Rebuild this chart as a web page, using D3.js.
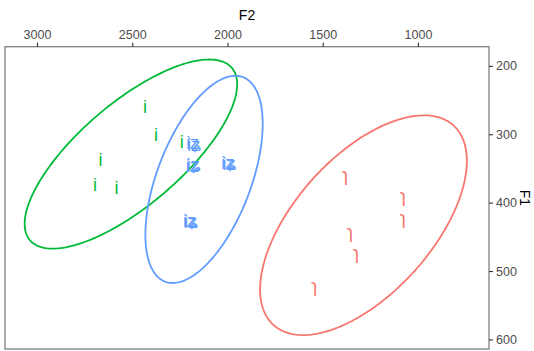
<!DOCTYPE html>
<html>
<head>
<meta charset="utf-8">
<script src="https://cdn.jsdelivr.net/npm/d3@7"></script>
<style>
  body { margin: 0; background: #fff; }
  svg { display: block; font-family: "Liberation Sans", Arial, "DejaVu Sans", sans-serif; }
</style>
</head>
<body>
<svg id="chart"></svg>
<script>
// vowel categories
const vowels = ["i", "iʑ", "ɿ"];

// measured formants per vowel (Hz)
const f2_i = [2433, 2375, 2240, 2666, 2696, 2582];
const f1_i = [260, 301, 311, 338, 374, 379];
const f2_iz = [2181, 2175, 2183, 2178, 1996, 1990, 2197, 2191];
const f1_iz = [313, 315, 347, 345, 342, 344, 427, 429];
const f2_syl = [1383, 1080, 1080, 1357, 1325, 1544];
const f1_syl = [360, 390, 423, 443, 473, 522];

// ellipse per vowel: centre [F2, F1] and two semi-axis vectors [dF2, dF1]
const ellipseCenter = [[2507, 329], [2123, 366], [1286, 433]];
const ellipseAxisA = [[-530, -126], [-308, -81], [-472, -146]];
const ellipseAxisB = [[-174, 57], [0, 128], [-268, 67]];

const f2Ticks = [3000, 2500, 2000, 1500, 1000];
const f1Ticks = [200, 300, 400, 500, 600];

const width = 534, height = 351;
const panel = { left: 5, right: 489, top: 46.7, bottom: 349 };

const points = [
  ...f2_i.map((d, i) => ({ vowel: vowels[0], f2: d, f1: f1_i[i] })),
  ...f2_iz.map((d, i) => ({ vowel: vowels[1], f2: d, f1: f1_iz[i] })),
  ...f2_syl.map((d, i) => ({ vowel: vowels[2], f2: d, f1: f1_syl[i] }))
];

// both axes reversed, as in a vowel chart
const x = d3.scaleLinear().domain([3168, 627]).range([panel.left, panel.right]);
const y = d3.scaleLinear().domain([172, 614]).range([panel.top, panel.bottom]);

const color = d3.scaleOrdinal()
  .domain(vowels)
  .range(["#00BA38", "#619CFF", "#F8766D"]);

const svg = d3.select("#chart").attr("width", width).attr("height", height);

// ellipses
const steps = d3.range(0, 2 * Math.PI, Math.PI / 90);
const ellipseLine = d3.line().curve(d3.curveLinearClosed);

svg.append("g")
  .selectAll("path")
  .data(vowels)
  .join("path")
  .attr("fill", "none")
  .attr("stroke", d => color(d))
  .attr("stroke-width", 1.8)
  .attr("d", (d, k) => {
    const c = ellipseCenter[k], a = ellipseAxisA[k], b = ellipseAxisB[k];
    return ellipseLine(steps.map(t => [
      x(c[0] + Math.cos(t) * a[0] + Math.sin(t) * b[0]),
      y(c[1] + Math.cos(t) * a[1] + Math.sin(t) * b[1])
    ]));
  });

// vowel labels
svg.append("g")
  .selectAll("text")
  .data(points)
  .join("text")
  .attr("x", d => x(d.f2))
  .attr("y", d => y(d.f1))
  .attr("text-anchor", "middle")
  .attr("dominant-baseline", "central")
  .attr("font-size", 18)
  .attr("fill", d => color(d.vowel))
  .text(d => d.vowel);

// panel border
svg.append("rect")
  .attr("x", panel.left)
  .attr("y", panel.top)
  .attr("width", panel.right - panel.left)
  .attr("height", panel.bottom - panel.top)
  .attr("fill", "none")
  .attr("stroke", "#7f7f7f")
  .attr("stroke-width", 1.3);

// top axis (F2)
const xAxis = svg.append("g")
  .attr("transform", `translate(0,${panel.top})`)
  .call(d3.axisTop(x).tickValues(f2Ticks).tickSize(4).tickPadding(4).tickFormat(d3.format("d")));
xAxis.select(".domain").remove();

// right axis (F1)
const yAxis = svg.append("g")
  .attr("transform", `translate(${panel.right},0)`)
  .call(d3.axisRight(y).tickValues(f1Ticks).tickSize(4).tickPadding(3).tickFormat(d3.format("d")));
yAxis.select(".domain").remove();

svg.selectAll(".tick line").attr("stroke", "#333").attr("stroke-width", 1.1);
svg.selectAll(".tick text")
  .attr("fill", "#4d4d4d")
  .attr("font-size", 12.5)
  .attr("font-family", "Liberation Sans, Arial, sans-serif");

// axis titles
svg.append("text")
  .attr("x", (panel.left + panel.right) / 2)
  .attr("y", 20.4)
  .attr("text-anchor", "middle")
  .attr("font-size", 14)
  .attr("fill", "#000")
  .text("F2");

svg.append("text")
  .attr("transform", `translate(525,${(panel.top + panel.bottom) / 2}) rotate(90)`)
  .attr("text-anchor", "middle")
  .attr("dominant-baseline", "central")
  .attr("font-size", 14)
  .attr("fill", "#000")
  .text("F1");
</script>
</body>
</html>
